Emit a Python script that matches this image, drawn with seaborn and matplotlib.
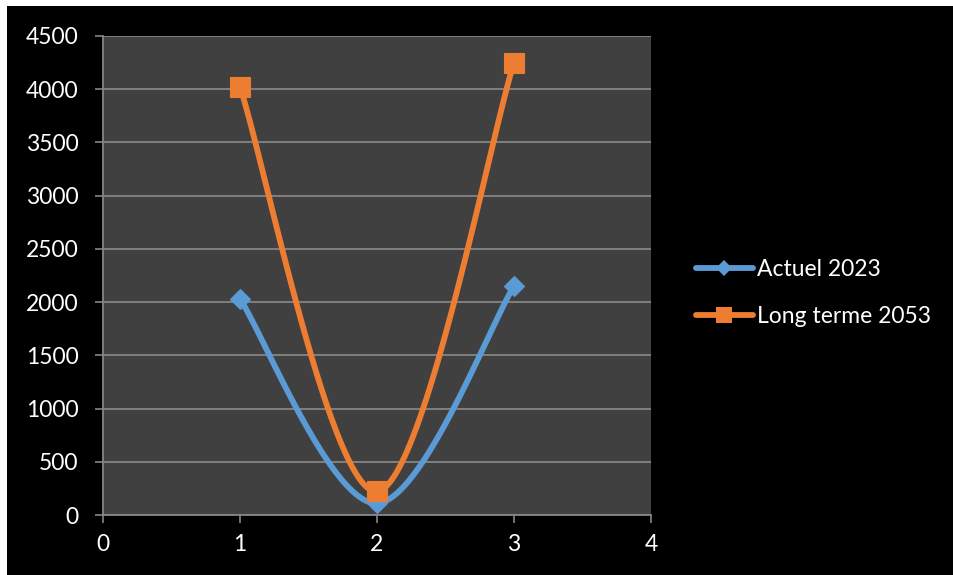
import numpy as np
import pandas as pd
import matplotlib
matplotlib.use("Agg")
import matplotlib.pyplot as plt
from matplotlib.lines import Line2D
from matplotlib.patches import Rectangle
import seaborn as sns

# Data
x_values = [1, 2, 3]
actuel_2023 = [2030, 110, 2150]
long_terme_2053 = [4020, 221, 4250]
series_names = ["Actuel 2023", "Long terme 2053"]
x_ticks = [0, 1, 2, 3, 4]
y_ticks = [0, 500, 1000, 1500, 2000, 2500, 3000, 3500, 4000, 4500]

BLUE = "#5B9BD5"
ORANGE = "#ED7D31"
GRID = "#858585"
PLOT_BG = "#404040"
FS = 16.5

sns.set_theme(style="dark")
plt.rcParams["font.family"] = ["Lato", "DejaVu Sans"]


def smooth_curve(xs, ys, n=60):
    """Cardinal (Catmull-Rom style) Bezier smoothing through the points."""
    pts = np.column_stack([xs, ys]).astype(float)
    out = []
    for i in range(len(pts) - 1):
        p0 = pts[i - 1] if i > 0 else pts[i]
        p1 = pts[i]
        p2 = pts[i + 1]
        p3 = pts[i + 2] if i + 2 < len(pts) else pts[i + 1]
        c1 = p1 + (p2 - p0) / 6.0
        c2 = p2 - (p3 - p1) / 6.0
        t = np.linspace(0, 1, n)[:, None]
        seg = ((1 - t) ** 3) * p1 + 3 * ((1 - t) ** 2) * t * c1 + 3 * (1 - t) * t ** 2 * c2 + t ** 3 * p2
        out.append(seg if i == 0 else seg[1:])
    return np.vstack(out)


curves = []
points = []
for name, vals in zip(series_names, [actuel_2023, long_terme_2053]):
    c = smooth_curve(x_values, vals)
    curves.append(pd.DataFrame({"x": c[:, 0], "y": c[:, 1], "serie": name, "order": np.arange(len(c))}))
    points.append(pd.DataFrame({"x": x_values, "y": vals, "serie": name}))
curve_df = pd.concat(curves, ignore_index=True)
point_df = pd.concat(points, ignore_index=True)

fig = plt.figure(figsize=(9.54, 5.75), dpi=100, facecolor="black")
ax = fig.add_axes([103 / 954, 1 - 515 / 575, 548 / 954, 479 / 575])
ax.set_facecolor(PLOT_BG)

palette = {series_names[0]: BLUE, series_names[1]: ORANGE}
sns.lineplot(data=curve_df, x="x", y="y", hue="serie", palette=palette, sort=False,
             estimator=None, units="serie", linewidth=4.2, legend=False, ax=ax, zorder=3)

markers = {series_names[0]: "D", series_names[1]: "s"}
sizes = {series_names[0]: 10.5, series_names[1]: 14.5}
for name in series_names:
    sub = point_df[point_df["serie"] == name]
    ax.plot(sub["x"], sub["y"], linestyle="none", marker=markers[name],
            markersize=sizes[name], markerfacecolor=palette[name],
            markeredgecolor=palette[name], markeredgewidth=0.8, zorder=4)

ax.set_xlim(0, 4)
ax.set_ylim(0, 4500)
ax.set_xticks(x_ticks)
ax.set_yticks(y_ticks)
ax.set_xticklabels([str(v) for v in x_ticks])
ax.set_yticklabels([str(v) for v in y_ticks])
ax.set_xlabel("")
ax.set_ylabel("")

ax.grid(False)
ax.yaxis.grid(True, color=GRID, linewidth=1.3)
ax.set_axisbelow(True)
for side in ["top", "right"]:
    ax.spines[side].set_visible(False)
for side in ["left", "bottom"]:
    ax.spines[side].set_visible(True)
    ax.spines[side].set_color(GRID)
    ax.spines[side].set_linewidth(1.3)

ax.tick_params(axis="both", which="major", colors=GRID, labelcolor="white",
               labelsize=FS, length=5.5, width=1.2, direction="out")
ax.tick_params(axis="y", pad=12)
ax.tick_params(axis="x", pad=8)
ax.tick_params(left=True, bottom=True)

handles = [
    Line2D([], [], color=BLUE, linewidth=4.2, marker="D", markersize=8, markeredgewidth=0),
    Line2D([], [], color=ORANGE, linewidth=4.2, marker="s", markersize=11, markeredgewidth=0),
]
leg = fig.legend(handles, series_names, loc="center left", bbox_to_anchor=(0.730, 0.49),
                 frameon=False, fontsize=FS, handlelength=2.45, handletextpad=0.18,
                 labelspacing=1.15, borderpad=0, borderaxespad=0)
for t in leg.get_texts():
    t.set_color("white")

# White outline at the top and left edges
fig.add_artist(Rectangle((0, 1 - 6 / 575), 1, 6 / 575, transform=fig.transFigure,
                         facecolor="white", edgecolor="none", zorder=10))
fig.add_artist(Rectangle((0, 0), 7 / 954, 1, transform=fig.transFigure,
                         facecolor="white", edgecolor="none", zorder=10))

fig.savefig("out.png", dpi=100, facecolor="black")
